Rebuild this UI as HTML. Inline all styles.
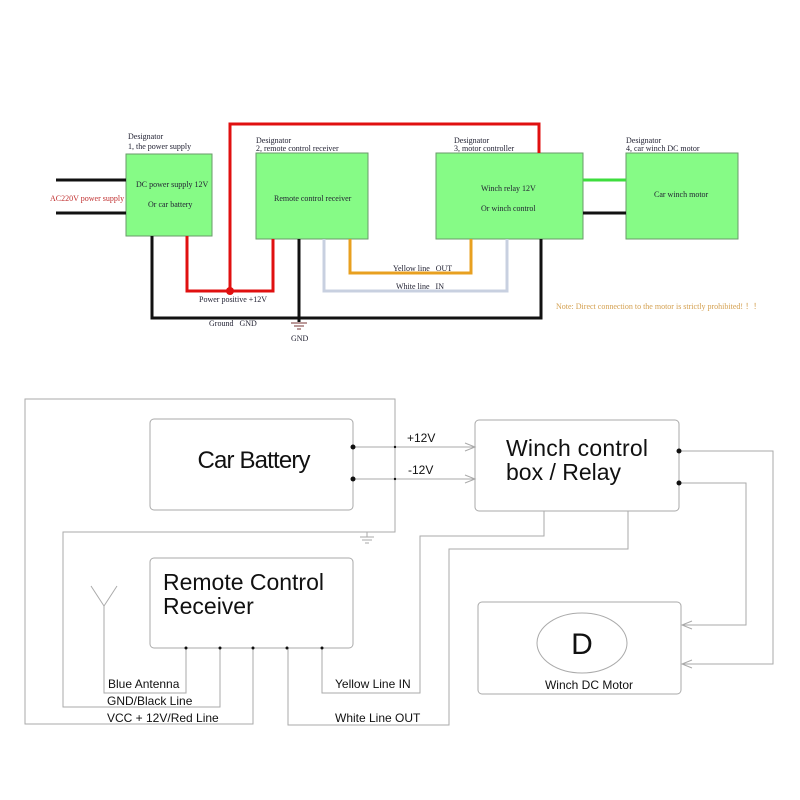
<!DOCTYPE html>
<html><head><meta charset="utf-8"><style>
html,body{margin:0;padding:0;background:#fff;width:800px;height:800px;overflow:hidden}
svg{display:block}
.s{font-family:"Liberation Serif",serif;font-size:8px;fill:#223}
.b{font-family:"Liberation Sans",sans-serif;fill:#111}
</style></head><body>
<svg width="800" height="800" viewBox="0 0 800 800" xmlns="http://www.w3.org/2000/svg">
<g fill="#86fb86" stroke="#6a9a6a" stroke-width="1">
<rect x="126" y="154" width="86" height="82"/>
<rect x="256" y="153" width="112" height="86"/>
<rect x="436" y="153" width="147" height="86"/>
<rect x="626" y="153" width="112" height="86"/>
</g>
<g fill="none" stroke-width="3">
<line x1="56" y1="180" x2="126" y2="180" stroke="#111"/>
<line x1="56" y1="213" x2="126" y2="213" stroke="#111"/>
<line x1="583" y1="180" x2="626" y2="180" stroke="#3ddd3d"/>
<line x1="583" y1="213" x2="626" y2="213" stroke="#111"/>
<polyline points="187,236 187,291 273,291 273,239" stroke="#e01010"/>
<polyline points="230,291 230,124 539,124 539,153" stroke="#e01010"/>
<polyline points="152,236 152,318 541,318 541,239" stroke="#111"/>
<line x1="299" y1="239" x2="299" y2="322" stroke="#111"/>
<polyline points="350,239 350,273 471,273 471,239" stroke="#e8a020"/>
<polyline points="324,239 324,291 507,291 507,239" stroke="#c8d0e0"/>
</g>
<circle cx="230" cy="291" r="4" fill="#e01010"/>
<g stroke="#733" stroke-width="1">
<line x1="291" y1="323" x2="307" y2="323"/><line x1="294" y1="326" x2="304" y2="326"/><line x1="297" y1="329" x2="301" y2="329"/>
</g>
<text class="s" x="128" y="139">Designator</text><text class="s" x="128" y="149">1, the power supply</text>
<text class="s" x="256" y="143">Designator</text><text class="s" x="256" y="151">2, remote control receiver</text>
<text class="s" x="454" y="143">Designator</text><text class="s" x="454" y="151">3, motor controller</text>
<text class="s" x="626" y="143">Designator</text><text class="s" x="626" y="151">4, car winch DC motor</text>
<text class="s" x="50" y="201" style="fill:#c03030">AC220V power supply</text>
<text class="s" x="136" y="187">DC power supply 12V</text>
<text class="s" x="148" y="207">Or car battery</text>
<text class="s" x="274" y="201">Remote control receiver</text>
<text class="s" x="481" y="191">Winch relay 12V</text>
<text class="s" x="481" y="211">Or winch control</text>
<text class="s" x="654" y="197">Car winch motor</text>
<text class="s" x="199" y="302">Power positive +12V</text>
<text class="s" x="209" y="326" xml:space="preserve">Ground   GND</text>
<text class="s" x="291" y="341">GND</text>
<text class="s" x="393" y="271" xml:space="preserve">Yellow line   OUT</text>
<text class="s" x="396" y="289" xml:space="preserve">White line   IN</text>
<text class="s" x="556" y="309" style="fill:#d4a050">Note: Direct connection to the motor is strictly prohibited!  ！！</text>

<g fill="none" stroke="#aaa" stroke-width="1">
<rect x="150" y="419" width="203" height="91" rx="4"/>
<rect x="475" y="420" width="204" height="91" rx="4"/>
<rect x="150" y="558" width="203" height="90" rx="4"/>
<rect x="478" y="602" width="203" height="92" rx="4"/>
<ellipse cx="582" cy="643" rx="45" ry="30"/>
<polyline points="253,648 253,724 25,724 25,399 395,399 395,532 63,532 63,707 220,707 220,648"/>
<polyline points="186,648 186,693 104,693 104,606"/>
<polyline points="91,586 104,606 117,586"/>
<line x1="353" y1="447" x2="475" y2="447"/><line x1="353" y1="479" x2="475" y2="479"/>
<polyline points="465,443 475,447 465,451"/><polyline points="465,475 475,479 465,483"/>
<polyline points="544,511 544,536 420,536 420,693 322,693 322,648"/>
<polyline points="628,511 628,549 449,549 449,725 288,725 288,648"/>
<polyline points="679,451 773,451 773,664 682,664"/>
<polyline points="679,483 746,483 746,625 682,625"/>
<polyline points="692,660 682,664 692,668"/><polyline points="692,621 682,625 692,629"/>
<line x1="360" y1="537" x2="374" y2="537"/><line x1="362" y1="540" x2="372" y2="540"/><line x1="365" y1="543" x2="369" y2="543"/><line x1="367" y1="532" x2="367" y2="537"/>
</g>
<g fill="#111">
<circle cx="353" cy="447" r="2.5"/><circle cx="353" cy="479" r="2.5"/>
<circle cx="679" cy="451" r="2.5"/><circle cx="679" cy="483" r="2.5"/>
<circle cx="395" cy="447" r="1.2"/><circle cx="395" cy="479" r="1.2"/>
<circle cx="186" cy="648" r="1.5"/><circle cx="220" cy="648" r="1.5"/><circle cx="253" cy="648" r="1.5"/><circle cx="287" cy="648" r="1.5"/><circle cx="322" cy="648" r="1.5"/>
</g>
<text class="b" x="254" y="468" font-size="24" text-anchor="middle" textLength="113">Car Battery</text>
<text class="b" x="506" y="456" font-size="23" textLength="142">Winch control</text>
<text class="b" x="506" y="480" font-size="23">box / Relay</text>
<text class="b" x="163" y="590" font-size="23" textLength="161">Remote Control</text>
<text class="b" x="163" y="614" font-size="23">Receiver</text>
<text class="b" x="582" y="654" font-size="30" text-anchor="middle">D</text>
<text class="b" x="589" y="689" font-size="12" text-anchor="middle">Winch DC Motor</text>
<text class="b" x="407" y="442" font-size="12">+12V</text>
<text class="b" x="408" y="474" font-size="12">-12V</text>
<text class="b" x="108" y="688" font-size="12">Blue Antenna</text>
<text class="b" x="107" y="705" font-size="12">GND/Black Line</text>
<text class="b" x="107" y="722" font-size="12">VCC + 12V/Red Line</text>
<text class="b" x="335" y="688" font-size="12">Yellow Line IN</text>
<text class="b" x="335" y="722" font-size="12">White Line OUT</text>
</svg>
</body></html>
